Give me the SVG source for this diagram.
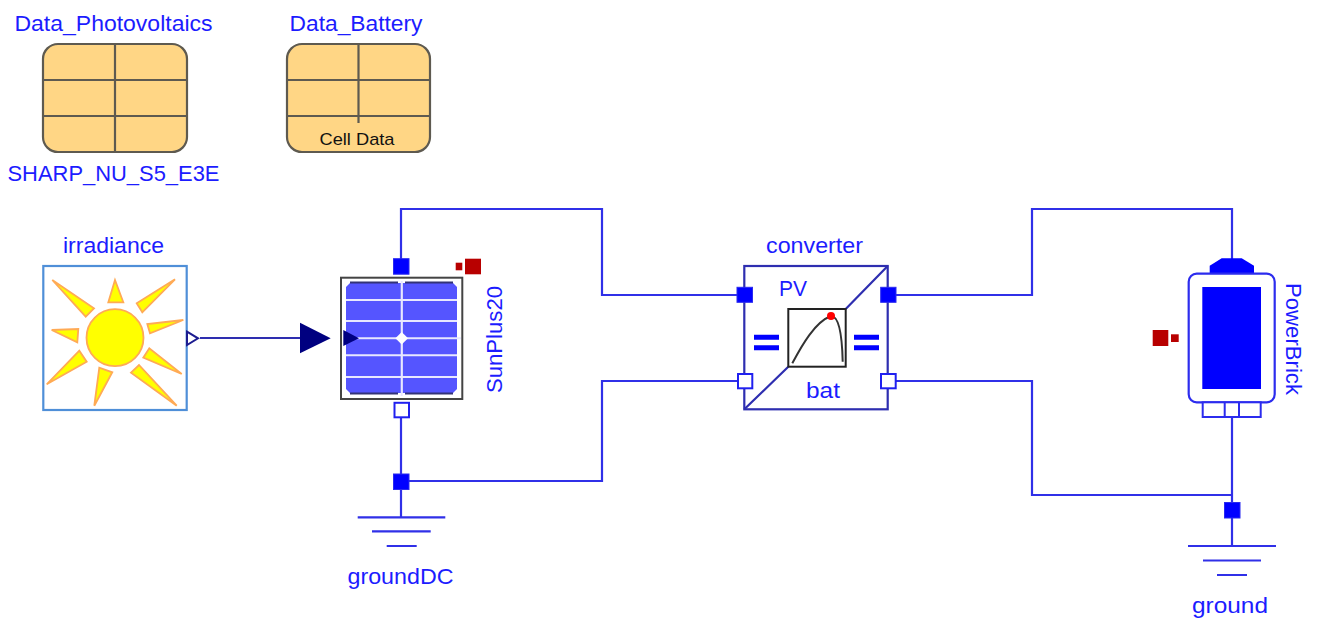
<svg xmlns="http://www.w3.org/2000/svg" width="1317" height="619" viewBox="0 0 1317 619">
<style>
text{font-family:"Liberation Sans",Arial,sans-serif;font-size:22px;fill:#1c1cff}
.wire{fill:none;stroke:#3030e8;stroke-width:2.2}
.gnd{stroke:#3030e8;stroke-width:2.2}
.pf{fill:#0000ff;stroke:#2a2af0;stroke-width:1}
.po{fill:#fff;stroke:#2020f0;stroke-width:2}
.rec{fill:#ffd685;stroke:#5e5a50;stroke-width:2.2}
.rl{stroke:#5e5a50;stroke-width:2.2;fill:none}
.ray{fill:#ffff00;stroke:#ffaa55;stroke-width:1.8}
.red{fill:#b80000}
.body{fill:#fff;stroke:#2e2eb0;stroke-width:2.2}
.cl{stroke:#e8e8ff;stroke-width:2}
.eq{stroke:#0000ff;stroke-width:5}
</style>
<g id="connectors">
<path class="wire" d="M401 266V209H602V295H737"/>
<path class="wire" d="M401 417V517"/>
<path class="wire" d="M401 481H602V381H737"/>
<path class="wire" d="M896 295H1032V209H1232V260"/>
<path class="wire" d="M896 381H1032V495H1232"/>
<path class="wire" d="M1232 417V546"/>
<path d="M200 338H300" fill="none" stroke="#2e2eb0" stroke-width="2.2"/>
<path d="M300 322.700L330.700 338.300L300 353.300Z" fill="#000080"/>
</g>
<g id="Data_Photovoltaics">
<rect class="rec" x="43" y="44" width="144" height="108" rx="15"/>
<path class="rl" d="M115 44V152M43 80H187M43 116H187"/>
<text x="113.500" y="31" text-anchor="middle" textLength="198" lengthAdjust="spacingAndGlyphs">Data_Photovoltaics</text>
<text x="113.500" y="181" text-anchor="middle" textLength="212" lengthAdjust="spacingAndGlyphs">SHARP_NU_S5_E3E</text>
</g>
<g id="Data_Battery">
<rect class="rec" x="287" y="44" width="143" height="108" rx="15"/>
<path class="rl" d="M358.500 44V123M287 80H430M287 116H430"/>
<text x="356" y="31" text-anchor="middle" textLength="133" lengthAdjust="spacingAndGlyphs">Data_Battery</text>
<text x="357" y="145" text-anchor="middle" textLength="75" lengthAdjust="spacingAndGlyphs" style="font-size:17px;fill:#111">Cell Data</text>
</g>
<g id="irradiance">
<rect x="43.300" y="266" width="143.400" height="144" fill="#fff" stroke="#4f8fd8" stroke-width="2.200"/>
<circle class="ray" cx="115" cy="337.700" r="28.500"/>
<polygon class="ray" points="115,280 108.300,302.300 123.300,302.300"/>
<polygon class="ray" points="175,279.300 136.700,303.300 142.300,312.300"/>
<polygon class="ray" points="183.300,320 147.300,324 150,333.300"/>
<polygon class="ray" points="181.700,374 149.300,348.300 143.300,357.700"/>
<polygon class="ray" points="176.700,405.700 139,365 131,372.700"/>
<polygon class="ray" points="94.300,405.700 99.300,367.700 112.300,372.300"/>
<polygon class="ray" points="46.700,384.300 79.300,350.700 86.700,361.700"/>
<polygon class="ray" points="51.700,330 78.300,329 77.300,342.300"/>
<polygon class="ray" points="52.300,280 94,308.300 85.700,316.700"/>
<polygon points="187,331.700 198,338.300 187,345" fill="#fff" stroke="#1c1c90" stroke-width="2"/>
<text x="113.500" y="253" text-anchor="middle" textLength="101" lengthAdjust="spacingAndGlyphs">irradiance</text>
</g>
<g id="SunPlus20">
<rect x="341" y="277.700" width="121.300" height="121.300" fill="#fff" stroke="#444" stroke-width="2"/>
<path d="M350 283H401V393H350L346 389V287ZM402.500 283H453L457 287V389L453 393H402.500Z" fill="#5555ff"/>
<path d="M350 282.500H398M405 282.500H453M350 393.500H398M405 393.500H453" stroke="#333377" stroke-width="2"/>
<path class="cl" d="M346 300H457M346 321H457M346 338.300H461M346 355.300H457M346 377H457M401.700 281V396"/>
<path d="M401.700 332L408 338.300L401.700 344.600L395.400 338.300Z" fill="#fff"/>
<path d="M343.300 330L359 338.300L343.300 346Z" fill="#000080"/>
<rect class="pf" x="393.500" y="258.700" width="15.500" height="15.500"/>
<rect class="po" x="394.500" y="402.800" width="14.500" height="14.500"/>
<rect class="red" x="465" y="258.700" width="16" height="15.600"/>
<rect class="red" x="455.700" y="262.700" width="6.600" height="7.600"/>
<text transform="translate(502 393) rotate(-90)" textLength="107" lengthAdjust="spacingAndGlyphs">SunPlus20</text>
</g>
<g id="groundDC">
<rect class="pf" x="393.500" y="474" width="15.500" height="15.500"/>
<path class="gnd" d="M357.700 517.300H445.300M372 531.300H430.700M386.700 546H416.700"/>
<text x="400.500" y="584" text-anchor="middle" textLength="106" lengthAdjust="spacingAndGlyphs">groundDC</text>
</g>
<g id="converter">
<rect class="body" x="744.300" y="266" width="143.400" height="143.300"/>
<path d="M744.300 409.300L788.300 366.700M845.700 309L887.700 266" stroke="#2e2eb0" stroke-width="2.200" fill="none"/>
<rect x="788.300" y="309" width="57.400" height="57.700" fill="#fff" stroke="#222" stroke-width="2"/>
<path d="M792.300 363.300C802 345 815 322 831 316C838 316 842 330 842.700 361.700" fill="none" stroke="#333" stroke-width="2"/>
<circle cx="831" cy="316" r="4" fill="#ff0000"/>
<path class="eq" d="M754 337.300H779M754 347.700H779M854 337.300H879M854 347.700H879"/>
<rect class="pf" x="737" y="287.300" width="15.500" height="15"/>
<rect class="po" x="738" y="374" width="14.300" height="14.300"/>
<rect class="pf" x="880.700" y="287.300" width="15.300" height="15"/>
<rect class="po" x="881" y="374" width="14.700" height="14.300"/>
<text x="793" y="296" text-anchor="middle" textLength="28" lengthAdjust="spacingAndGlyphs">PV</text>
<text x="823" y="398" text-anchor="middle" textLength="34" lengthAdjust="spacingAndGlyphs">bat</text>
<text x="814.500" y="253" text-anchor="middle" textLength="97" lengthAdjust="spacingAndGlyphs">converter</text>
</g>
<g id="PowerBrick">
<polygon points="1209.700,273.700 1209.700,265.700 1221.700,258.300 1241.700,258.300 1254,265.700 1254,273.700" fill="#0000ff"/>
<rect x="1188.700" y="273.700" width="86" height="128.600" rx="8" fill="#fff" stroke="#2c2cee" stroke-width="2.200"/>
<rect x="1202.300" y="287" width="58.700" height="102" fill="#0000ff"/>
<rect x="1202.700" y="402.300" width="58" height="14.700" fill="#fff" stroke="#2c2cee" stroke-width="2"/>
<path d="M1224.700 402.300V417M1239 402.300V417" stroke="#2c2cee" stroke-width="2"/>
<rect class="red" x="1152.700" y="330" width="15.600" height="16"/>
<rect class="red" x="1171" y="334.300" width="7.700" height="7.700"/>
<text transform="translate(1286 283) rotate(90)" textLength="112" lengthAdjust="spacingAndGlyphs">PowerBrick</text>
</g>
<g id="ground">
<rect class="pf" x="1224.500" y="502.500" width="15.500" height="15.500"/>
<path class="gnd" d="M1188 546H1276M1203 560.500H1261M1217 575H1247"/>
<text x="1230" y="613" text-anchor="middle" textLength="76" lengthAdjust="spacingAndGlyphs">ground</text>
</g>
</svg>
